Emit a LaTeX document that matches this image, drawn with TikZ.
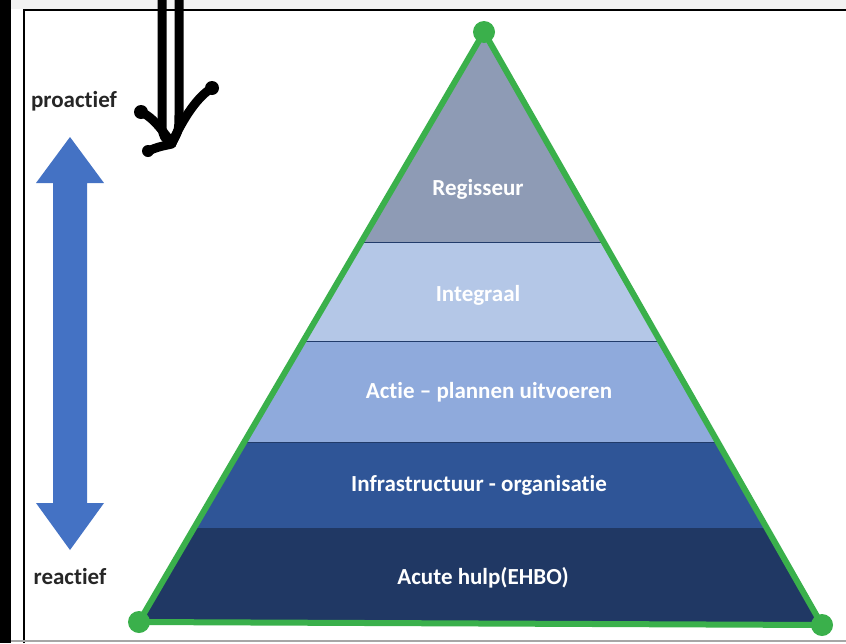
\documentclass[tikz,border=0pt]{standalone}
\usepackage{fontspec}
\setmainfont{Carlito}[Ligatures={NoCommon}]
\definecolor{cRegis}{HTML}{8E9BB5}
\definecolor{cInteg}{HTML}{B4C7E7}
\definecolor{cActie}{HTML}{8FAADC}
\definecolor{cInfra}{HTML}{2F5597}
\definecolor{cAcute}{HTML}{203864}
\definecolor{cGreen}{HTML}{3AB04B}
\definecolor{cArrow}{HTML}{4472C4}
\begin{document}
\begin{tikzpicture}[x=1pt,y=-1pt,
  lvl/.style={text=white,font=\fontsize{23}{26}\selectfont\bfseries,inner sep=0pt},
  side/.style={text=black!85,font=\fontsize{23}{26}\selectfont\bfseries,inner sep=0pt},
  scrib/.style={line width=9pt,line cap=round,line join=round,black},
  sep/.style={cInfra!70!black,line width=0.8pt}]
\useasboundingbox (0,0) rectangle (846,643);
\fill[white] (0,0) rectangle (846,643);
\fill[gray!10] (0,0) rectangle (846,9);
% frame
\fill[black] (0,0) rectangle (11,643);
\draw[line width=2.5pt] (24,643) -- (24,10) -- (846,10);
\draw[gray!70,line width=2pt] (11,641) -- (846,641);
% pyramid corners
\coordinate (A) at (484,32);
\coordinate (L) at (139,622);
\coordinate (R) at (822,625);
\begin{scope}
  \clip (A) -- (L) -- (R) -- cycle;
  \fill[cRegis] (0,0) rectangle (846,242);
  \fill[cInteg] (0,242) rectangle (846,341);
  \fill[cActie] (0,341) rectangle (846,442);
  \fill[cInfra] (0,442) rectangle (846,528);
  \fill[cAcute] (0,528) rectangle (846,643);
  \draw[sep] (0,242) -- (846,242);
  \draw[sep] (0,341) -- (846,341);
  \draw[sep] (0,442) -- (846,442);
\end{scope}
\draw[cGreen,line width=6pt,line join=round] (A) -- (L) -- (R) -- cycle;
\foreach \p in {A,L,R} \fill[cGreen] (\p) circle (11);
% level labels
\node[lvl] (regis) at (478,189) {Regisseur};
\node[lvl] (integ) at (478,295) {Integraal};
\node[lvl] (actie) at (489,392) {Actie -- plannen uitvoeren};
\node[lvl] (infra) at (479,485) {Infrastructuur - organisatie};
\node[lvl] (acute) at (483,578) {Acute hulp(EHBO)};
% side labels
\node[side] (pro) at (74,101) {proactief};
\node[side] (re) at (70,577) {reactief};
% blue double arrow
\fill[cArrow] (70,137) -- (104,183) -- (87,183) -- (87,503) -- (104,503)
  -- (70,550) -- (36,503) -- (53,503) -- (53,183) -- (36,183) -- cycle;
% hand-drawn arrow
\draw[scrib] (162,0) -- (162,128) .. controls (164,138) .. (172,143);
\draw[scrib] (179,0) -- (179,112) .. controls (179,130) .. (172,143);
\draw[scrib] (141,112) .. controls (155,118) and (165,135) .. (172,143);
\draw[scrib] (212,88) .. controls (195,98) and (180,125) .. (172,143);
\draw[scrib] (148,151) .. controls (158,147) .. (172,144);
\fill (141,112) circle (7);
\fill (212,88) circle (7);
\fill (148,151) circle (6);
\end{tikzpicture}
\end{document}
